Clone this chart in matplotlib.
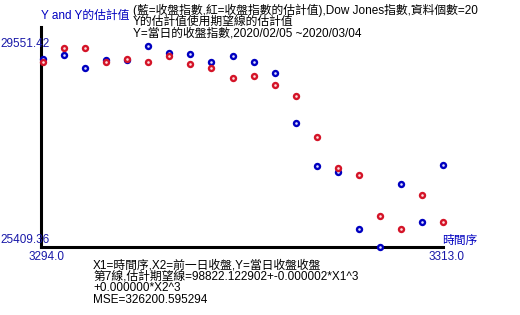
import matplotlib
matplotlib.use('Agg')
import matplotlib.pyplot as plt

plt.rcParams['font.family'] = ['Liberation Sans', 'Noto Sans CJK TC', 'DejaVu Sans']

# time index (x axis)
x_days = list(range(3294, 3314))
# blue: actual close (Dow Jones, 2020/02/05 ~ 2020/03/04)
y_close = [29290.85, 29379.77, 29102.51, 29276.82, 29276.34, 29551.42, 29423.31,
           29398.08, 29232.19, 29348.03, 29219.98, 28992.41, 27960.80, 27081.36,
           26957.59, 25766.64, 25409.36, 26703.32, 25917.41, 27090.86]
# red: estimated close
y_est = [29220, 29510, 29510, 29220, 29282, 29220, 29357, 29199, 29096, 28909,
         28930, 28764, 28516, 27687, 27025, 26880, 26051, 25782, 26486, 25927]

x_min_label = "3294.0"
x_max_label = "3313.0"
y_max_label = "29551.42"
y_min_label = "25409.36"

blue = '#0000c0'
red = '#d41428'
label_blue = '#1818a8'

fig = plt.figure(figsize=(5.2, 3.15), dpi=100)
ax = fig.add_axes([41 / 520, 1 - 246.5 / 315, 402 / 520, 219.5 / 315])

ax.plot(x_days, y_close, 'o', color=blue, ms=3.6, mfc='#e0e0ff', mew=1.7, clip_on=False, zorder=3)
ax.plot(x_days, y_est, 'o', color=red, ms=3.6, mfc='#ffe0e0', mew=1.7, clip_on=False, zorder=4)

ax.set_xlim(3293.9, 3313)
ax.set_ylim(25409.36, 29955)
for s in ['top', 'right']:
    ax.spines[s].set_visible(False)
for s in ['left', 'bottom']:
    ax.spines[s].set_linewidth(2.2)
    ax.spines[s].set_color('black')
ax.set_xticks([])
ax.set_yticks([])

fs = 8.5
# axis labels
fig.text(41 / 520, 1 - 16 / 315, "Y and Y的估計值", color=blue, fontsize=fs, ha='left', va='center')
fig.text(0, 1 - 44 / 315, y_max_label, color=label_blue, fontsize=fs, ha='left', va='center')
fig.text(0, 1 - 240 / 315, y_min_label, color=label_blue, fontsize=fs, ha='left', va='center')
fig.text(47 / 520, 1 - 257 / 315, x_min_label, color=label_blue, fontsize=fs, ha='center', va='center')
fig.text(447 / 520, 1 - 257 / 315, x_max_label, color=label_blue, fontsize=fs, ha='center', va='center')
fig.text(442 / 520, 1 - 241 / 315, "時間序", color=blue, fontsize=fs, ha='left', va='center')

# title lines
title_lines = ["(藍=收盤指數,紅=收盤指數的估計值),Dow Jones指數,資料個數=20",
               "Y的估計值使用期望線的估計值",
               "Y=當日的收盤指數,2020/02/05 ~2020/03/04"]
for i, t in enumerate(title_lines):
    fig.text(133 / 520, 1 - (10 + 11.5 * i) / 315, t, color='black', fontsize=fs,
             ha='left', va='center')

# footer lines
foot_lines = ["X1=時間序,X2=前一日收盤,Y=當日收盤收盤",
              "第7線,估計期望線=98822.122902+-0.000002*X1^3",
              "+0.000000*X2^3",
              "MSE=326200.595294"]
for i, t in enumerate(foot_lines):
    fig.text(93 / 520, 1 - (265 + 11.7 * i) / 315, t, color='black', fontsize=fs,
             ha='left', va='center')

fig.savefig('out.png', dpi=100)
